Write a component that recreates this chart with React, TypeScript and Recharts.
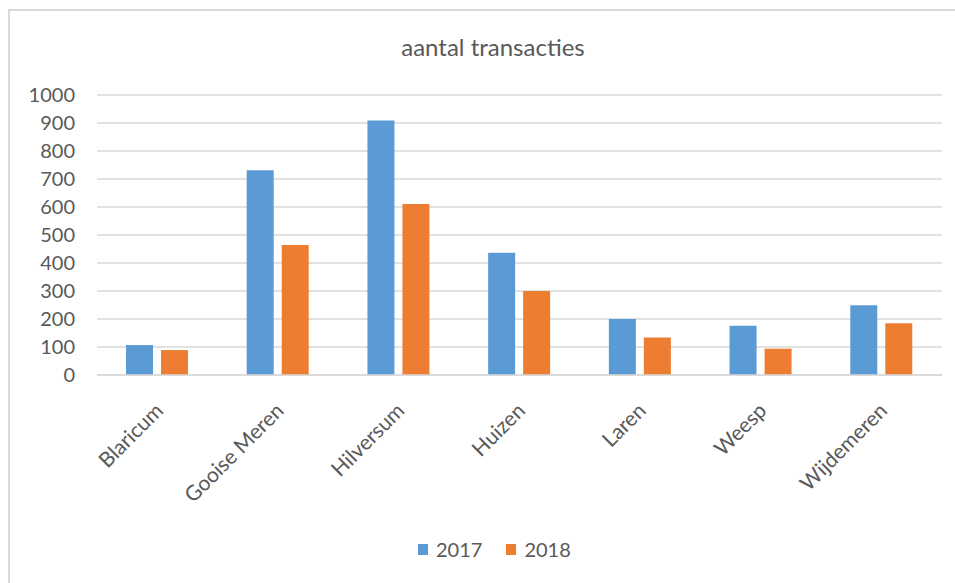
import React from 'react';
import { BarChart, Bar, XAxis, YAxis, CartesianGrid, Legend } from 'recharts';

const categories = ['Blaricum', 'Gooise Meren', 'Hilversum', 'Huizen', 'Laren', 'Weesp', 'Wijdemeren'];
const values2017 = [107, 731, 909, 437, 200, 176, 249];
const values2018 = [89, 464, 611, 300, 134, 94, 185];
const yTicks = [0, 100, 200, 300, 400, 500, 600, 700, 800, 900, 1000];
const seriesNames = ['2017', '2018'];
const colors = ['#5b9bd5', '#ed7d31'];

const data = categories.map((c, i) => ({ name: c, v2017: values2017[i], v2018: values2018[i] }));

const FONT = 'Lato, "Open Sans", sans-serif';
const TEXT = '#595959';
const WEIGHT = 400;

const XTick = (props: any) => {
  const { x, y, payload } = props;
  return (
    <g transform={`translate(${x + 7},${y + 29})`}>
      <text x={0} y={0} textAnchor="end" transform="rotate(-45)" fill={TEXT} fontSize={21} fontWeight={WEIGHT} fontFamily={FONT}>
        {payload.value}
      </text>
    </g>
  );
};

const LegendContent = () => (
  <div style={{ display: 'flex', alignItems: 'center', paddingLeft: 408, fontFamily: FONT, fontSize: 20, fontWeight: WEIGHT, color: TEXT }}>
    {seriesNames.map((s, i) => (
      <div key={s} style={{ display: 'flex', alignItems: 'center', marginRight: 24 }}>
        <span style={{ display: 'inline-block', width: 10, height: 11, background: colors[i], marginRight: 8 }} />
        <span>{s}</span>
      </div>
    ))}
  </div>
);

export default function App() {
  return (
    <div
      style={{
        position: 'fixed',
        left: 8,
        top: 9,
        width: 947,
        height: 574,
        borderTop: '2px solid #d9d9d9',
        borderLeft: '2px solid #d9d9d9',
        background: '#fff',
        overflow: 'hidden',
      }}
    >
      <div
        style={{
          position: 'absolute',
          top: 21,
          left: 0,
          width: 966,
          textAlign: 'center',
          fontFamily: FONT,
          fontSize: 24,
          fontWeight: WEIGHT,
          color: TEXT,
          lineHeight: '30px',
        }}
      >
        aantal transacties
      </div>
      <BarChart width={945} height={572} data={data} margin={{ top: 84, right: 13, left: 0, bottom: 0 }} barGap={8}>
        <CartesianGrid vertical={false} stroke="#d9d9d9" strokeWidth={1.3} />
        <XAxis
          dataKey="name"
          height={208}
          tickLine={false}
          axisLine={{ stroke: '#d9d9d9', strokeWidth: 1.3 }}
          tick={<XTick />}
          interval={0}
        />
        <YAxis
          width={87}
          domain={[0, 1000]}
          ticks={yTicks}
          axisLine={false}
          tickLine={false}
          tickMargin={16}
          tick={{ fill: TEXT, fontSize: 20, fontWeight: WEIGHT, fontFamily: FONT }}
        />
        <Legend
          layout="horizontal"
          verticalAlign="middle"
          align="center"
          wrapperStyle={{ top: 526, left: 0, width: 945 }}
          content={<LegendContent />}
        />
        <Bar dataKey="v2017" name={seriesNames[0]} fill={colors[0]} barSize={27} isAnimationActive={false} />
        <Bar dataKey="v2018" name={seriesNames[1]} fill={colors[1]} barSize={27} isAnimationActive={false} />
      </BarChart>
    </div>
  );
}
